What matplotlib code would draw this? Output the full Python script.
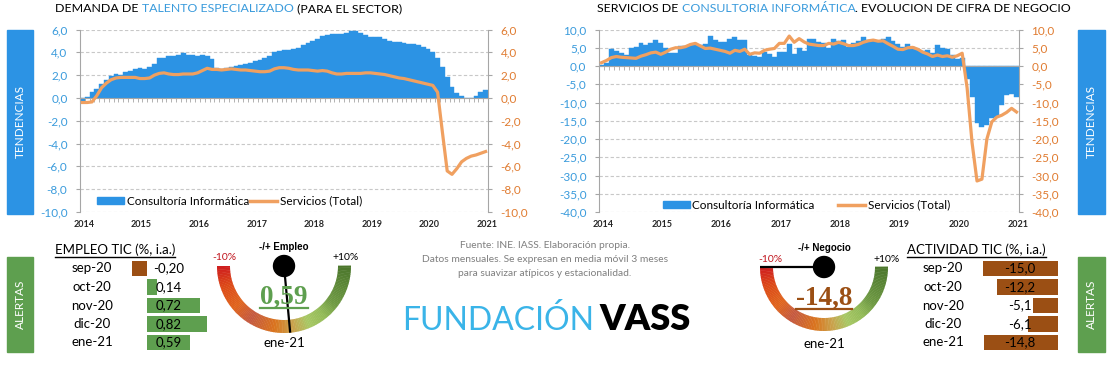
import matplotlib
matplotlib.use('Agg')
import matplotlib.pyplot as plt
import numpy as np
import pandas as pd
from matplotlib.patches import Rectangle, Wedge, Circle
from matplotlib.lines import Line2D
from matplotlib.colors import LinearSegmentedColormap

W, H = 1111, 367

# ---------------------------------------------------------------------
# Datos (medias moviles 3 meses, %, i.a.)
# ---------------------------------------------------------------------
meses = pd.date_range('2014-01-01', periods=85, freq='MS')
anios = ['2014', '2015', '2016', '2017', '2018', '2019', '2020', '2021']

talento_consultoria = [
    -0.3, 0.1, 0.5, 0.8, 1.2, 1.6, 1.9, 2.1, 2.0, 2.3, 2.4, 2.5,
    2.6, 2.5, 2.7, 3.0, 3.5, 3.5, 3.7, 3.7, 3.8, 3.9, 3.8, 3.8,
    3.7, 3.8, 3.7, 3.4, 2.6, 2.5, 2.6, 2.7, 2.8, 2.9, 3.0, 3.1,
    3.2, 3.3, 3.5, 3.7, 4.0, 4.1, 4.2, 4.2, 4.3, 4.4, 4.6, 4.8,
    5.0, 5.2, 5.4, 5.5, 5.6, 5.6, 5.6, 5.7, 5.9, 5.9, 5.7, 5.5,
    5.3, 5.3, 5.3, 5.2, 5.0, 4.9, 4.9, 4.8, 4.7, 4.7, 4.6, 4.5,
    4.3, 4.0, 3.5, 2.7, 1.8, 1.0, 0.45, 0.2, 0.0, 0.0, 0.2, 0.5, 0.7]
talento_servicios = [
    -0.4, -0.4, -0.35, 0.2, 0.9, 1.3, 1.6, 1.75, 1.8, 1.8, 1.8, 1.8,
    1.7, 1.7, 1.75, 2.0, 2.15, 2.2, 2.1, 2.05, 2.05, 2.1, 2.1, 2.1,
    2.2, 2.4, 2.6, 2.5, 2.5, 2.45, 2.5, 2.55, 2.5, 2.45, 2.45, 2.4,
    2.35, 2.3, 2.3, 2.35, 2.55, 2.65, 2.65, 2.6, 2.5, 2.45, 2.45, 2.45,
    2.4, 2.35, 2.4, 2.35, 2.2, 2.1, 2.1, 2.15, 2.15, 2.15, 2.15, 2.2,
    2.2, 2.15, 2.1, 2.05, 1.95, 1.85, 1.75, 1.7, 1.6, 1.5, 1.4, 1.3,
    1.2, 1.1, 0.5, -3.0, -6.4, -6.7, -6.2, -5.6, -5.3, -5.1, -5.0, -4.85, -4.7]

negocio_consultoria = [
    0.3, 0.9, 4.6, 4.0, 3.5, 2.9, 5.0, 5.3, 6.4, 5.8, 6.3, 7.2,
    6.2, 5.0, 3.6, 3.6, 5.6, 5.6, 5.7, 5.8, 5.8, 5.9, 8.3, 7.0,
    6.6, 6.6, 7.3, 8.0, 7.0, 7.0, 3.0, 2.8, 2.4, 3.8, 3.3, 2.4,
    3.8, 3.7, 6.0, 3.2, 4.8, 4.0, 7.3, 7.5, 6.7, 6.3, 5.0, 7.4,
    6.9, 7.0, 5.3, 6.4, 6.8, 8.0, 7.0, 7.1, 6.7, 7.5, 8.0, 6.8,
    6.0, 5.2, 6.0, 5.2, 4.6, 4.0, 4.3, 3.5, 5.8, 5.0, 4.6, 3.0,
    1.8, 2.3, -3.5, -8.6, -15.5, -16.8, -16.3, -14.2, -14.0, -10.8, -7.9, -7.8, -8.5]
negocio_servicios = [
    0.9, 1.5, 2.3, 2.6, 2.4, 2.3, 2.2, 2.1, 2.7, 3.1, 3.6, 3.8,
    3.2, 3.8, 4.6, 5.0, 5.0, 5.3, 5.9, 6.2, 5.5, 4.8, 4.9, 4.6,
    4.3, 4.0, 3.5, 4.3, 4.0, 4.6, 3.2, 3.6, 3.5, 4.3, 4.6, 4.8,
    6.2, 6.2, 8.2, 6.5, 7.5, 6.6, 6.0, 5.8, 5.6, 5.6, 6.2, 6.0,
    6.5, 6.1, 5.6, 5.6, 5.9, 6.5, 6.9, 7.1, 6.8, 6.9, 6.1, 5.4,
    4.6, 4.5, 5.0, 5.1, 4.6, 3.8, 3.3, 2.6, 3.0, 2.6, 2.8, 2.4,
    2.8, 3.5, -6.0, -21.0, -31.5, -31.0, -20.0, -15.3, -14.0, -13.5, -12.7, -11.6, -12.6]

alerta_meses = ['sep-20', 'oct-20', 'nov-20', 'dic-20', 'ene-21']
empleo_tic = [-0.20, 0.14, 0.72, 0.82, 0.59]
actividad_tic = [-15.0, -12.2, -5.1, -6.1, -14.8]

# ---------------------------------------------------------------------
AZUL = '#2c93e4'
AZUL_TXT = '#3a9bdc'
NARANJA = '#f0a060'
NARANJA_TXT = '#e07b30'
VERDE = '#5e9f4f'
MARRON = '#9b4f14'
GRIS = '#a6a6a6'
FONT = 'Lato'

plt.rcParams['font.family'] = [FONT, 'DejaVu Sans']

fig = plt.figure(figsize=(W / 100, H / 100), dpi=100)


def fx(x):
    return x / W


def fy(y):
    return 1 - y / H


def px_axes(x0, y0, x1, y1):
    return fig.add_axes([x0 / W, 1 - y1 / H, (x1 - x0) / W, (y1 - y0) / H])


def fmt(v, dec=1):
    return f'{v:.{dec}f}'.replace('.', ',')


def grafico(rect, barras, linea, ylim, paso, leg_pos, colsp):
    ax = px_axes(*rect)
    x = np.arange(len(meses))
    ax.bar(x, barras, width=1.0, color=AZUL, edgecolor=AZUL, linewidth=0.3, zorder=2)
    ax.set_xlim(-0.5, len(meses) - 0.5)
    ax.set_ylim(*ylim)
    ticks = np.arange(ylim[0], ylim[1] + paso / 2, paso)
    ax.set_yticks(ticks)
    ax.set_yticklabels([fmt(t) for t in ticks], color=AZUL_TXT, fontsize=8.5)
    ax.grid(axis='y', linestyle=(0, (3, 2)), color='#c8c8c8', linewidth=0.8)
    ax.set_axisbelow(True)
    ax.spines['bottom'].set_position(('data', 0))
    ax.spines['bottom'].set_color(GRIS)
    ax.spines['bottom'].set_zorder(3)
    ax.spines['left'].set_color(GRIS)
    ax.spines['top'].set_visible(False)
    ax.spines['right'].set_visible(False)
    ax.set_xticks([])
    ax.set_xticks(np.arange(-0.5, len(meses)), minor=True)
    ax.tick_params(axis='x', which='minor', length=3, color=GRIS, direction='out')
    ax.tick_params(axis='y', length=3, color=GRIS, pad=6)
    for k, a in enumerate(anios):
        ax.text(0.3 + 12 * k, -0.07, a, transform=ax.get_xaxis_transform(),
                ha='center', va='center', fontsize=6.5, fontweight='bold', color='#262626')

    ax2 = ax.twinx()
    ax2.plot(x, linea, color=NARANJA, lw=2.3, solid_joinstyle='round', zorder=4)
    ax2.set_ylim(*ylim)
    ax2.set_yticks(ticks)
    ax2.set_yticklabels([fmt(t) for t in ticks], color=NARANJA_TXT, fontsize=8.5)
    ax2.tick_params(axis='y', length=3, color=GRIS, pad=6)
    for s in ['top', 'left', 'bottom']:
        ax2.spines[s].set_visible(False)
    ax2.spines['right'].set_color(GRIS)

    handles = [Rectangle((0, 0), 1, 1, color=AZUL), Line2D([], [], color=NARANJA, lw=2.5)]
    ax2.legend(handles, ['Consultoría Informática', 'Servicios (Total)'], ncol=2,
               loc='center left', bbox_to_anchor=leg_pos, frameon=False, fontsize=8.5,
               borderpad=0, borderaxespad=0, handlelength=2.3, handleheight=0.6,
               handletextpad=0.2, columnspacing=colsp)
    return ax


grafico((80, 29.5, 488, 212), talento_consultoria, talento_servicios, (-10, 6), 2,
        (0.042, 0.06), 0.1)
grafico((599, 29.5, 1019, 212), negocio_consultoria, negocio_servicios, (-40, 10), 5,
        (0.152, 0.038), 2.0)


# titulos con tramos de distinto color
def titulo_multicolor(x, y, partes):
    fig.canvas.draw()
    r = fig.canvas.get_renderer()
    cx = x
    for txt, col in partes:
        t = fig.text(fx(cx), fy(y), txt, color=col, fontsize=8.9, va='center', ha='left')
        bb = t.get_window_extent(renderer=r)
        cx += bb.width


titulo_multicolor(55, 9, [('DEMANDA DE ', 'black'), ('TALENTO ESPECIALIZADO', AZUL_TXT),
                          (' (PARA EL SECTOR)', 'black')])
titulo_multicolor(597, 9, [('SERVICIOS DE ', 'black'), ('CONSULTORIA INFORMÁTICA', AZUL_TXT),
                           ('. EVOLUCION DE CIFRA DE NEGOCIO', 'black')])

# cajas laterales
for (x0, y0, x1, y1, txt, col) in [(7, 30, 33, 214, 'TENDENCIAS', AZUL),
                                   (1078, 30, 1105, 214, 'TENDENCIAS', AZUL),
                                   (7, 257, 33, 352, 'ALERTAS', VERDE),
                                   (1078, 257, 1105, 352, 'ALERTAS', VERDE)]:
    fig.patches.append(Rectangle((fx(x0), fy(y1)), (x1 - x0) / W, (y1 - y0) / H,
                                 transform=fig.transFigure, color=col, zorder=0))
    fig.text(fx((x0 + x1) / 2), fy((y0 + y1) / 2), txt, rotation=90, color='white',
             fontsize=8.5, ha='center', va='center')


# tablas de alertas
def tabla(x0, x1, cero, escala, valores, dec, x_etiq, x_valor, cab, x_cab):
    ax = px_axes(x0, 259.25, x1, 351.75)
    ax.set_xlim((x0 - cero) / escala, (x1 - cero) / escala)
    ax.set_ylim(len(valores) - 0.5, -0.5)
    colores = [MARRON if v < 0 else VERDE for v in valores]
    ax.barh(np.arange(len(valores)), valores, height=0.86, color=colores)
    ax.axis('off')
    for i, (m, v) in enumerate(zip(alerta_meses, valores)):
        ax.text((x_etiq - x0) / (x1 - x0), i, m, transform=ax.get_yaxis_transform(),
                ha='center', va='center', fontsize=9.5)
        ax.text((x_valor - cero) / escala, i, fmt(v, dec), ha='center', va='center',
                fontsize=9.5)
    t = fig.text(fx(x_cab), fy(250), cab, fontsize=9.5, ha='left', va='center')
    return t


cab1 = tabla(120, 230, 147, 73.0, empleo_tic, 2, 92, 169, 'EMPLEO TIC (%, i.a.)', 55)
cab2 = tabla(960, 1070, 1058, 5.0, actividad_tic, 1, 943, 1020, 'ACTIVIDAD TIC (%, i.a.)', 907)

# gauges
gauge_cmap = LinearSegmentedColormap.from_list('gauge', [
    (0.0, '#cf1f1f'), (0.10, '#dc4a18'), (0.22, '#e0661e'), (0.32, '#c45a42'),
    (0.45, '#da741e'), (0.55, '#c9a44e'), (0.63, '#a8c865'), (0.72, '#93bb58'),
    (0.80, '#6f9a44'), (1.0, '#4c772c')])


def gauge(cx, cy, r, valor, nombre, color_valor, xmenos, xmas):
    ax = px_axes(cx - 95, cy - 35, cx + 95, cy + 90)
    ax.set_xlim(-95, 95)
    ax.set_ylim(-90, 35)
    ax.set_aspect('equal')
    ax.axis('off')
    n = 120
    for k in range(n):
        a0 = 180 + 180 * k / n
        a1 = 180 + 180 * (k + 1) / n + 0.4
        ax.add_patch(Wedge((0, 0), r, a0, a1, width=13, color=gauge_cmap(k / (n - 1)), lw=0))
    v = np.clip(valor, -10, 10)
    ang = np.deg2rad(180 + (v + 10) / 20 * 180)
    ax.plot([0, r * np.cos(ang)], [0, r * np.sin(ang)], color='black', lw=1.6,
            solid_capstyle='butt')
    ax.add_patch(Circle((0, 0), 10.5, color='black', zorder=5))
    ax.text(0, 19, '-/+ ' + nombre, ha='center', va='center', fontsize=7,
            fontweight='bold', family='Liberation Sans')
    ax.text(xmenos, 8, '-10%', ha='center', va='center', fontsize=7.5, color='#c0141c')
    ax.text(xmas, 8, '+10%', ha='center', va='center', fontsize=7.5)
    tv = ax.text(0, -31, fmt(valor, 2 if abs(valor) < 1 else 1), ha='center', va='center',
                 fontsize=19.5, fontweight='bold', family='Liberation Serif', color=color_valor)
    ax.text(0, -77, 'ene-21', ha='center', va='center', fontsize=9.5)
    return tv


v1 = gauge(284, 266, 67, empleo_tic[-1], 'Empleo', VERDE, -60, 62)
v2 = gauge(824, 267, 64, actividad_tic[-1], 'Negocio', MARRON, -54, 63)

# texto central y logo
for k, linea in enumerate(['Fuente: INE. IASS. Elaboración propia.',
                           'Datos mensuales. Se expresan en media móvil 3 meses',
                           'para suavizar atípicos y estacionalidad.']):
    fig.text(fx(545), fy(245 + 14 * k), linea, ha='center', va='center', fontsize=7.4,
             color='#7f7f7f')

fig.text(fx(594), fy(320), 'FUNDACIÓN', ha='right', va='center', fontsize=23,
         color='#3ab4e8', family=FONT)
fig.text(fx(599), fy(320), 'VASS', ha='left', va='center', fontsize=26,
         color='black', fontweight='heavy', family=FONT)

# subrayados
fig.canvas.draw()
rend = fig.canvas.get_renderer()
for t, col, dy, lw in [(cab1, 'black', 7, 1.0), (cab2, 'black', 7, 1.0),
                       (v1, VERDE, 10.5, 1.6), (v2, MARRON, 10.5, 1.6)]:
    bb = t.get_window_extent(renderer=rend)
    ymid = (bb.y0 + bb.y1) / 2 - dy
    fig.add_artist(Line2D([bb.x0 / W, bb.x1 / W], [ymid / H, ymid / H],
                          transform=fig.transFigure, color=col, lw=lw))

fig.savefig('out.png', dpi=100)
